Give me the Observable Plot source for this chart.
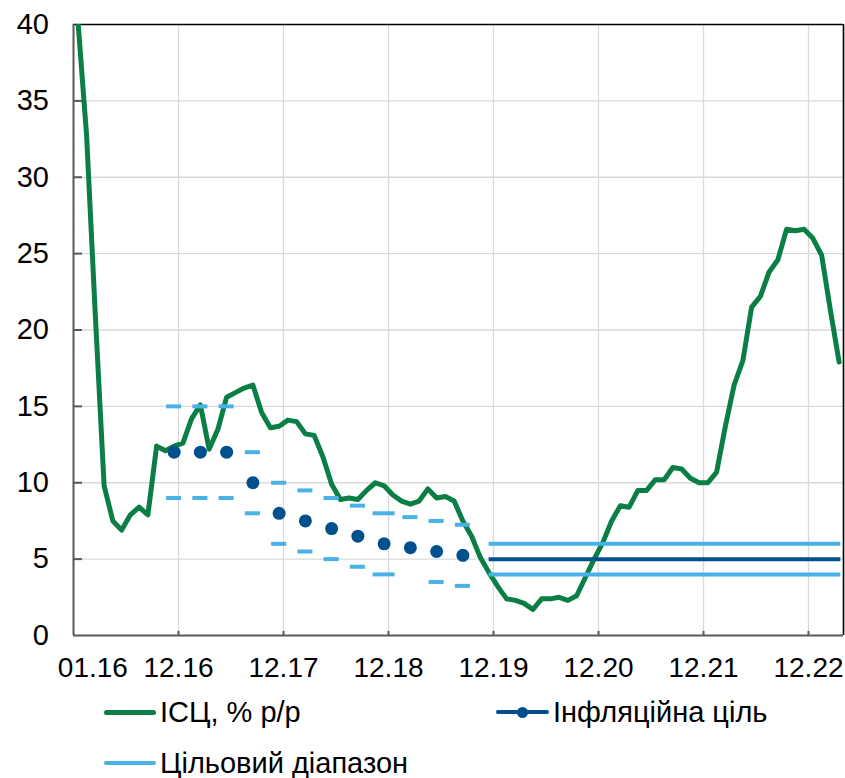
<!DOCTYPE html>
<html>
<head>
<meta charset="utf-8">
<script src="https://cdn.jsdelivr.net/npm/d3@7"></script>
<script src="https://cdn.jsdelivr.net/npm/@observablehq/plot@0.6"></script>
<style>
  html, body { margin: 0; padding: 0; background: #ffffff; }
  #wrap { position: relative; width: 845px; height: 778px; font-family: "Liberation Sans", Arial, sans-serif; }
  #chart svg { display: block; }
  .lg-item { position: absolute; height: 29px; line-height: 29px; font-size: 29px; color: #000; white-space: nowrap; }
  .lg-sw { position: absolute; }
</style>
</head>
<body>
<div id="wrap">
  <div id="chart"></div>
  <div id="legend"></div>
</div>
<script>
// ---------- DATA ----------
// Monthly CPI, % y/y, from 01.2016 to 04.2023
const cpiStart = "01.16";
const cpiValues = [
  40.3, 32.7, 20.9, 9.8, 7.5, 6.9, 7.9, 8.4, 7.9, 12.4, 12.1, 12.4,
  12.6, 14.2, 15.1, 12.2, 13.5, 15.6, 15.9, 16.2, 16.4, 14.6, 13.6, 13.7,
  14.1, 14.0, 13.2, 13.1, 11.7, 9.9, 8.9, 9.0, 8.9, 9.5, 10.0, 9.8,
  9.2, 8.8, 8.6, 8.8, 9.6, 9.0, 9.1, 8.8, 7.5, 6.5, 5.1, 4.1,
  3.2, 2.4, 2.3, 2.1, 1.7, 2.4, 2.4, 2.5, 2.3, 2.6, 3.8, 5.0,
  6.1, 7.5, 8.5, 8.4, 9.5, 9.5, 10.2, 10.2, 11.0, 10.9, 10.3, 10.0,
  10.0, 10.7, 13.7, 16.4, 18.0, 21.5, 22.2, 23.8, 24.6, 26.6, 26.5, 26.6,
  26.0, 24.9, 21.3, 17.9
];

// Quarterly inflation-target path and tolerance range (2016-2019)
const targetMonths = ["12.16","03.17","06.17","09.17","12.17","03.18","06.18","09.18","12.18","03.19","06.19","09.19"];
const targetValues = [12, 12, 12, 10, 8, 7.5, 7, 6.5, 6, 5.75, 5.5, 5.25];
const rangeUpper   = [15, 15, 15, 12, 10, 9.5, 9, 8.5, 8, 7.75, 7.5, 7.25];
const rangeLower   = [9, 9, 9, 8, 6, 5.5, 5, 4.5, 4, null, 3.5, 3.25];

// Medium-term target from 12.19
const mtStart = "12.19";
const mtTarget = 5;
const mtUpper = 6;
const mtLower = 4;

// Axis
const xTickLabels = ["01.16","12.16","12.17","12.18","12.19","12.20","12.21","12.22"];
const yTicks = [0, 5, 10, 15, 20, 25, 30, 35, 40];

// Legend labels
const legendLabels = ["ІСЦ, % р/р", "Інфляційна ціль", "Цільовий діапазон"];

// ---------- HELPERS ----------
const GREEN = "#0a7e45", NAVY = "#00508e", LIGHT = "#48b1e6", GRID = "#d9d9d9", AXIS = "#595959";
const toIndex = s => { const [m, y] = s.split(".").map(Number); return (y - 16) * 12 + (m - 1); };
const i0 = toIndex(cpiStart);
const cpiData = cpiValues.map((v, k) => ({i: i0 + k, v}));
const lastI = cpiData[cpiData.length - 1].i;
const targetData = targetMonths.map((m, k) => ({
  m, i: toIndex(m), v: targetValues[k], up: rangeUpper[k], lo: rangeLower[k]
}));
const halfW = d => d.m === "12.18" ? 1.26 : 0.86;
const xMin = -0.5, xMax = lastI + 0.5;
const gridLabels = xTickLabels.slice(1);
const gridX = gridLabels.map(s => toIndex(s) + 0.5);
const firstLabel = xTickLabels[0];

const W = 845, H = 690;
const chart = Plot.plot({
  width: W,
  height: H,
  marginLeft: 73,
  marginRight: 2,
  marginTop: 24,
  marginBottom: 55,
  style: {fontFamily: "'Liberation Sans', Arial, sans-serif", background: "#fff"},
  x: {type: "linear", domain: [xMin, xMax], axis: null},
  y: {type: "linear", domain: [0, 40], axis: null},
  marks: [
    // grid
    Plot.ruleY(yTicks.filter(t => t > 0 && t < 40), {stroke: GRID, strokeWidth: 1.3}),
    Plot.ruleX(gridX, {stroke: GRID, strokeWidth: 1.3}),
    // frame: top and right
    Plot.ruleY([40], {stroke: "#000", strokeWidth: 1.6}),
    Plot.ruleX([xMax], {stroke: "#000", strokeWidth: 1.6}),
    // CPI line
    Plot.line(cpiData, {x: "i", y: "v", stroke: GREEN, strokeWidth: 5, strokeLinejoin: "round", clip: true}),
    // tolerance range dashes
    Plot.ruleY(targetData.filter(d => d.up != null), {y: "up", x1: d => d.i - halfW(d), x2: d => d.i + halfW(d), stroke: LIGHT, strokeWidth: 4}),
    Plot.ruleY(targetData.filter(d => d.lo != null), {y: "lo", x1: d => d.i - halfW(d), x2: d => d.i + halfW(d), stroke: LIGHT, strokeWidth: 4}),
    // target dots
    Plot.dot(targetData, {x: "i", y: "v", r: 6.5, fill: NAVY, stroke: null}),
    // medium-term target lines
    Plot.ruleY([mtUpper, mtLower], {x1: toIndex(mtStart), x2: lastI + 0.2, stroke: LIGHT, strokeWidth: 4}),
    Plot.ruleY([mtTarget], {x1: toIndex(mtStart), x2: lastI + 0.2, stroke: NAVY, strokeWidth: 4}),
    // axes lines
    Plot.ruleX([xMin], {stroke: AXIS, strokeWidth: 2}),
    Plot.ruleY([0], {stroke: AXIS, strokeWidth: 2.2}),
    // inward ticks on y axis
    Plot.ruleY(yTicks.filter(t => t > 0 && t < 40), {x1: xMin, x2: xMin + 9 / 8.75, stroke: AXIS, strokeWidth: 2}),
    // inward ticks on x axis
    Plot.ruleX(gridX, {y1: 0, y2: 0.27, stroke: AXIS, strokeWidth: 2}),
    // y tick labels
    Plot.text(yTicks, {x: xMin, y: d => d, text: d => String(d), textAnchor: "end", dx: -24.5, lineAnchor: "middle", fontSize: 29, fill: "#000"}),
    // x tick labels
    Plot.text(gridLabels, {x: d => toIndex(d) + 0.5, y: 0, text: d => d, textAnchor: "middle", lineAnchor: "middle", dx: 0, dy: 33, fontSize: 28, fill: "#000"}),
    Plot.text([firstLabel], {x: d => toIndex(d), y: 0, text: d => d, textAnchor: "middle", lineAnchor: "middle", dx: 15, dy: 33, fontSize: 28, fill: "#000"})
  ]
});
document.getElementById("chart").appendChild(chart);

// ---------- LEGEND ----------
const lg = document.getElementById("legend");
function swatch(x, y, w, color, thick, dot) {
  const s = document.createElement("div");
  s.className = "lg-sw";
  s.style.left = x + "px"; s.style.top = (y - thick / 2) + "px";
  s.style.width = w + "px"; s.style.height = thick + "px";
  s.style.background = color; s.style.borderRadius = (thick / 2) + "px";
  lg.appendChild(s);
  if (dot) {
    const d = document.createElement("div");
    d.className = "lg-sw";
    d.style.left = (x + w / 2 - 5.5) + "px"; d.style.top = (y - 5.5) + "px";
    d.style.width = "11px"; d.style.height = "11px";
    d.style.background = color; d.style.borderRadius = "50%";
    lg.appendChild(d);
  }
}
function label(x, yCenter, text) {
  const t = document.createElement("div");
  t.className = "lg-item";
  t.style.left = x + "px"; t.style.top = (yCenter - 14.5) + "px";
  t.textContent = text;
  lg.appendChild(t);
}
swatch(104, 712, 52, GREEN, 5, false);
label(160, 712, legendLabels[0]);
swatch(496, 712, 53, NAVY, 4, true);
label(553, 712, legendLabels[1]);
swatch(104, 763, 52, LIGHT, 4, false);
label(160, 763, legendLabels[2]);
</script>
</body>
</html>
